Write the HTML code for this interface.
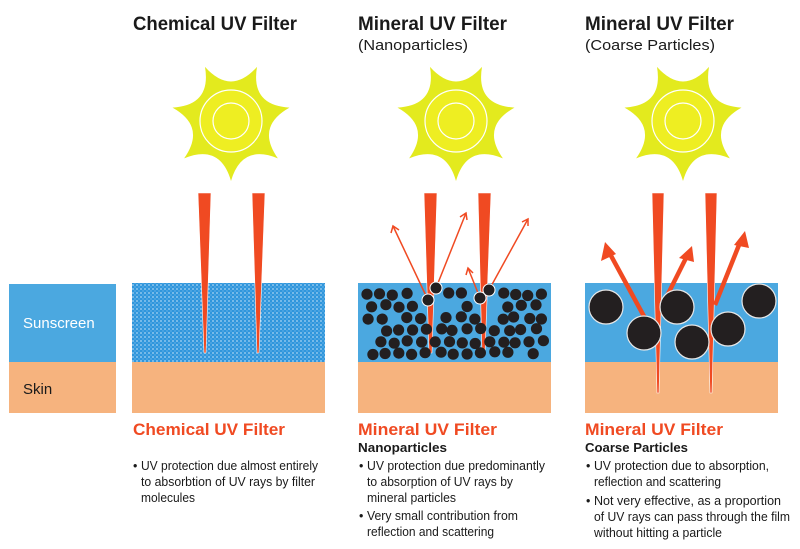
<!DOCTYPE html>
<html><head><meta charset="utf-8"><style>
html,body{margin:0;padding:0;background:#fff;}
svg{display:block;font-family:"Liberation Sans",Arial,sans-serif;}
</style></head><body>
<svg id="s" width="800" height="549" viewBox="0 0 800 549" xmlns="http://www.w3.org/2000/svg">
<defs>
<pattern id="dots" width="4" height="4" patternUnits="userSpaceOnUse">
<rect width="4" height="4" fill="#2f96dc"/>
<circle cx="1" cy="1" r="0.9" fill="#a9d4f3"/>
<circle cx="3" cy="3" r="0.7" fill="#6fb6ea"/>
</pattern>
</defs>
<text x="133" y="30" font-size="19" font-weight="bold" fill="#1a1a1a" textLength="164" lengthAdjust="spacingAndGlyphs">Chemical UV Filter</text>
<text x="358" y="30" font-size="19" font-weight="bold" fill="#1a1a1a" textLength="149" lengthAdjust="spacingAndGlyphs">Mineral UV Filter</text>
<text x="358" y="50" font-size="15" fill="#1a1a1a" textLength="110" lengthAdjust="spacingAndGlyphs">(Nanoparticles)</text>
<text x="585" y="30" font-size="19" font-weight="bold" fill="#1a1a1a" textLength="149" lengthAdjust="spacingAndGlyphs">Mineral UV Filter</text>
<text x="585" y="50" font-size="15" fill="#1a1a1a" textLength="130" lengthAdjust="spacingAndGlyphs">(Coarse Particles)</text>
<g id="suns"></g>
<rect x="9" y="284" width="107" height="78" fill="#4ba8e0"/>
<rect x="9" y="362" width="107" height="51" fill="#f6b37e"/>
<text x="23" y="328" font-size="15" fill="#fff">Sunscreen</text>
<text x="23" y="394" font-size="15" fill="#1a1a1a">Skin</text>
<rect x="132" y="283" width="193" height="79" fill="url(#dots)"/>
<rect x="132" y="362" width="193" height="51" fill="#f6b37e"/>
<polygon points="198,193 211,193 206,353 204,353" fill="#f04a22" stroke="#fff" stroke-width="0.6"/>
<polygon points="252,193 265,193 259,353 257,353" fill="#f04a22" stroke="#fff" stroke-width="0.6"/>
<rect x="358" y="283" width="193" height="79" fill="#4ba8e0"/>
<rect x="358" y="362" width="193" height="51" fill="#f6b37e"/>
<polygon points="424,193 437,193 432,353 429,353" fill="#f04a22" stroke="#fff" stroke-width="0.6"/>
<polygon points="478,193 491,193 485,353 482,353" fill="#f04a22" stroke="#fff" stroke-width="0.6"/>
<g id="nano"></g>
<g stroke="#f04a22" stroke-width="1.5" fill="none">
<line x1="428" y1="300" x2="393" y2="226"/><polyline points="391,233 393,226 399,230"/>
<line x1="436" y1="288" x2="466" y2="213"/><polyline points="460,217 466,213 467,220"/>
<line x1="480" y1="298" x2="468" y2="268"/><polyline points="466,275 468,268 473,273"/>
<line x1="489" y1="290" x2="528" y2="219"/><polyline points="522,222 528,219 528,226"/>
</g>
<g fill="#231f20" stroke="#fff" stroke-width="1">
<circle cx="428" cy="300" r="6"/><circle cx="436" cy="288" r="6"/>
<circle cx="480" cy="298" r="6"/><circle cx="489" cy="290" r="6"/>
</g>
<rect x="585" y="283" width="193" height="79" fill="#4ba8e0"/>
<rect x="585" y="362" width="193" height="51" fill="#f6b37e"/>
<polygon points="652,193 664,193 659,393 657,393" fill="#f04a22" stroke="#fff" stroke-width="0.6"/>
<polygon points="705,193 717,193 712,393 710,393" fill="#f04a22" stroke="#fff" stroke-width="0.6"/>
<g stroke="#f04a22" stroke-width="4.5" fill="#f04a22">
<line x1="646" y1="320" x2="609" y2="252"/>
<line x1="664" y1="302" x2="687" y2="256"/>
<line x1="715" y1="305" x2="741" y2="240"/>
</g>
<g fill="#f04a22">
<polygon points="605,242 601,261 616,254"/>
<polygon points="692,246 679,258 694,262"/>
<polygon points="745,231 734,245 749,248"/>
</g>
<g fill="#231f20" stroke="#e8e8e8" stroke-width="1.2">
<circle cx="606" cy="307" r="17"/><circle cx="644" cy="333" r="17"/>
<circle cx="677" cy="307" r="17"/><circle cx="692" cy="342" r="17"/>
<circle cx="728" cy="329" r="17"/><circle cx="759" cy="301" r="17"/>
</g>
<g fill="#f04a22" font-weight="bold" font-size="17">
<text x="133" y="435" textLength="152" lengthAdjust="spacingAndGlyphs">Chemical UV Filter</text>
<text x="358" y="435" textLength="139" lengthAdjust="spacingAndGlyphs">Mineral UV Filter</text>
<text x="585" y="435" textLength="138" lengthAdjust="spacingAndGlyphs">Mineral UV Filter</text>
</g>
<g fill="#1a1a1a" font-weight="bold" font-size="12.5">
<text x="358" y="452" textLength="89" lengthAdjust="spacingAndGlyphs">Nanoparticles</text>
<text x="585" y="452" textLength="103" lengthAdjust="spacingAndGlyphs">Coarse Particles</text>
</g>
<g fill="#1a1a1a" font-size="12.5">
<text x="133" y="470">•</text>
<text x="141" y="470" textLength="177" lengthAdjust="spacingAndGlyphs">UV protection due almost entirely</text>
<text x="141" y="486" textLength="174" lengthAdjust="spacingAndGlyphs">to absorbtion of UV rays by filter</text>
<text x="141" y="502" textLength="54" lengthAdjust="spacingAndGlyphs">molecules</text>
<text x="359" y="470">•</text>
<text x="367" y="470" textLength="178" lengthAdjust="spacingAndGlyphs">UV protection due predominantly</text>
<text x="367" y="486" textLength="146" lengthAdjust="spacingAndGlyphs">to absorption of UV rays by</text>
<text x="367" y="502" textLength="89" lengthAdjust="spacingAndGlyphs">mineral particles</text>
<text x="359" y="520">•</text>
<text x="367" y="520" textLength="151" lengthAdjust="spacingAndGlyphs">Very small contribution from</text>
<text x="367" y="536" textLength="127" lengthAdjust="spacingAndGlyphs">reflection and scattering</text>
<text x="586" y="470">•</text>
<text x="594" y="470" textLength="175" lengthAdjust="spacingAndGlyphs">UV protection due to absorption,</text>
<text x="594" y="486" textLength="127" lengthAdjust="spacingAndGlyphs">reflection and scattering</text>
<text x="586" y="505">•</text>
<text x="594" y="505" textLength="187" lengthAdjust="spacingAndGlyphs">Not very effective, as a proportion</text>
<text x="594" y="521" textLength="196" lengthAdjust="spacingAndGlyphs">of UV rays can pass through the film</text>
<text x="594" y="537" textLength="128" lengthAdjust="spacingAndGlyphs">without hitting a particle</text>
</g>
</svg>
<script>
var NS="http://www.w3.org/2000/svg";
function el(p,t,a){var e=document.createElementNS(NS,t);for(var k in a)e.setAttribute(k,a[k]);p.appendChild(e);return e;}
var suns=document.getElementById('suns');
[231,456,683].forEach(function(cx){
  var cy=121,R=60,C=25,n=7,d="";
  for(var i=0;i<n;i++){
    var a=(90+i*360/n)*Math.PI/180, b=(90+(i+0.5)*360/n)*Math.PI/180, c=(90+(i+1)*360/n)*Math.PI/180;
    var x0=cx+R*Math.cos(a),y0=cy+R*Math.sin(a);
    if(i==0)d+="M"+x0.toFixed(1)+","+y0.toFixed(1);
    d+=" Q"+(cx+C*Math.cos(b)).toFixed(1)+","+(cy+C*Math.sin(b)).toFixed(1)+" "+(cx+R*Math.cos(c)).toFixed(1)+","+(cy+R*Math.sin(c)).toFixed(1);
  }
  el(suns,'path',{d:d+"Z",fill:"#e3ea1e"});
  el(suns,'circle',{cx:cx,cy:cy,r:31,fill:"#eeee22",stroke:"#fff","stroke-width":1.2});
  el(suns,'circle',{cx:cx,cy:cy,r:18,fill:"#eeee22",stroke:"#fff","stroke-width":1.2});
});
var g=document.getElementById('nano');
var seed=7;function rnd(){seed=(seed*9301+49297)%233280;return seed/233280;}
var rows=[294,306,318,330,342,353];
rows.forEach(function(y,ri){
  for(var x=367+(ri%2)*6;x<547;x+=13.5){
    var xx=x+(rnd()-0.5)*4, yy=y+(rnd()-0.5)*3;
    if(xx>421&&xx<441&&yy<325)continue;
    if(xx>475&&xx<495&&yy<325)continue;
    if(rnd()<0.05)continue;
    el(g,'circle',{cx:xx.toFixed(1),cy:yy.toFixed(1),r:5.6,fill:"#231f20"});
  }
});
</script>
</body></html>
